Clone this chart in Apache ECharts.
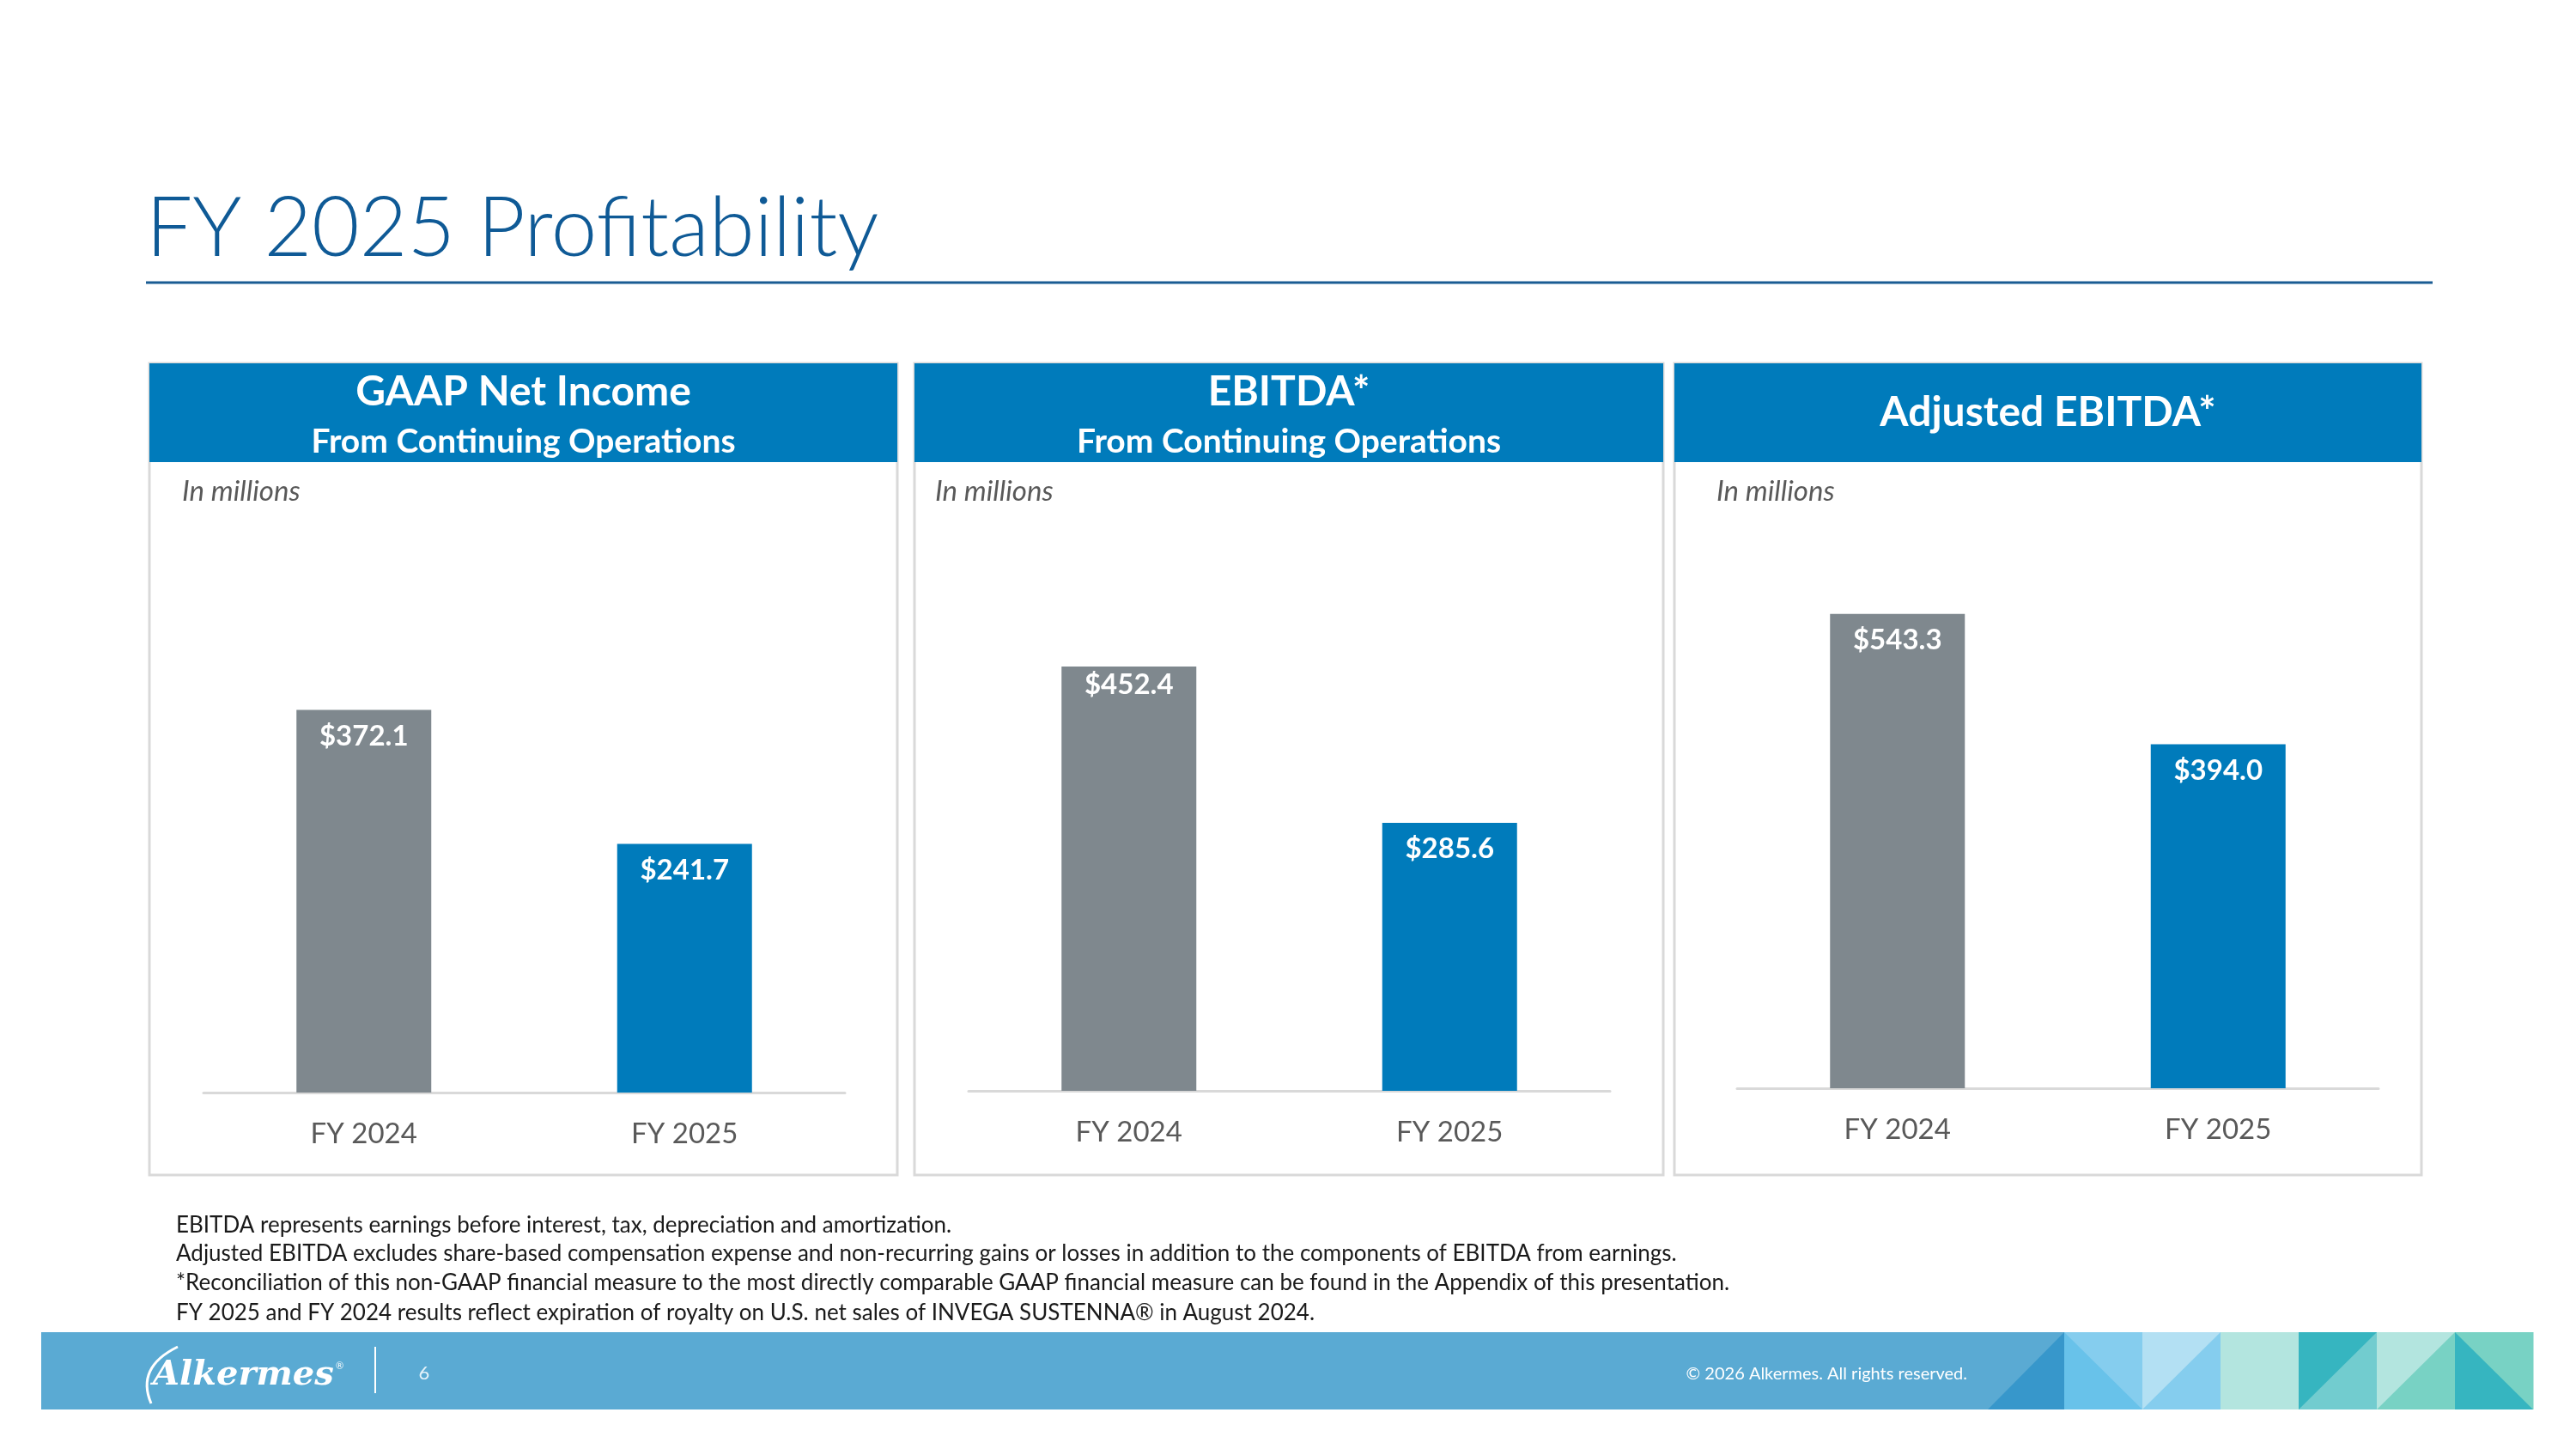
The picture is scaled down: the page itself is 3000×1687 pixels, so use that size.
<!DOCTYPE html>
<html lang="en">
<head>
<meta charset="UTF-8">
<title>FY 2025 Profitability</title>
<script src="https://cdn.jsdelivr.net/npm/echarts@6/dist/echarts.min.js"></script>
<style>
  html, body { margin: 0; padding: 0; background: #fff; }
  #main { width: 3000px; height: 1687px; }
</style>
</head>
<body>
<div id="main"></div>
<script>
  // data
  const categories = ['FY 2024', 'FY 2025'];
  const gaapNetIncome = [372.1, 241.7];
  const ebitda = [452.4, 285.6];
  const adjustedEbitda = [543.3, 394.0];
  const panelTitles = [
    ['GAAP Net Income', 'From Continuing Operations'],
    ['EBITDA*', 'From Continuing Operations'],
    ['Adjusted EBITDA*', null]
  ];
  const footnotes = [
    'EBITDA represents earnings before interest, tax, depreciation and amortization.',
    'Adjusted EBITDA excludes share-based compensation expense and non-recurring gains or losses in addition to the components of EBITDA from earnings.',
    '*Reconciliation of this non-GAAP financial measure to the most directly comparable GAAP financial measure can be found in the Appendix of this presentation.',
    'FY 2025 and FY 2024 results reflect expiration of royalty on U.S. net sales of INVEGA SUSTENNA\u00ae in August 2024.'
  ];

  const FONT = 'Lato, "Open Sans", sans-serif';
  const BLUE = '#007BBB';
  const GRAY = '#7F888E';
  const barColors = [GRAY, BLUE];

  // panel boxes + grid geometry (Excel picked a different axis max per chart)
  const panels = [
    { x: 174, w: 871, noteX: 212, gridLeft: 237, gridTop: 793, gridH: 479, max: 400 },
    { x: 1065, w: 872, noteX: 1089, gridLeft: 1128, gridTop: 724, gridH: 546, max: 500 },
    { x: 1950, w: 870, noteX: 1999, gridLeft: 2023, gridTop: 657, gridH: 610, max: 600 }
  ];
  const seriesData = [gaapNetIncome, ebitda, adjustedEbitda];

  const myChart = echarts.init(document.getElementById('main'));

  const graphics = [];
  // title + rule
  graphics.push({
    type: 'text', left: 170, top: 219,
    style: { text: 'FY 2025 Profitability', font: '300 96px ' + FONT, fill: '#0F5A96' }
  });
  graphics.push({
    type: 'line', shape: { x1: 170, y1: 329, x2: 2833, y2: 329 },
    style: { stroke: '#1A5C93', lineWidth: 3 }
  });

  panels.forEach((p, i) => {
    // frame
    graphics.push({
      type: 'rect', shape: { x: p.x, y: 423, width: p.w, height: 945 },
      style: { fill: 'none', stroke: '#D9D9D9', lineWidth: 3 }, z: 1
    });
    // header band
    graphics.push({
      type: 'rect', shape: { x: p.x, y: 423, width: p.w, height: 115 },
      style: { fill: BLUE }, z: 2
    });
    const t = panelTitles[i];
    const cx = p.x + p.w / 2;
    if (t[1]) {
      graphics.push({
        type: 'text', x: cx, y: 457, z: 3,
        style: { text: t[0], font: 'bold 48px ' + FONT, fill: '#fff', textAlign: 'center', textVerticalAlign: 'middle' }
      });
      graphics.push({
        type: 'text', x: cx, y: 514, z: 3,
        style: { text: t[1], font: 'bold 39px ' + FONT, fill: '#fff', textAlign: 'center', textVerticalAlign: 'middle' }
      });
    } else {
      graphics.push({
        type: 'text', x: cx, y: 481, z: 3,
        style: { text: t[0], font: 'bold 48px ' + FONT, fill: '#fff', textAlign: 'center', textVerticalAlign: 'middle' }
      });
    }
    graphics.push({
      type: 'text', x: p.noteX, y: 572, z: 3,
      style: { text: 'In millions', font: 'italic 33px ' + FONT, fill: '#595959', textVerticalAlign: 'middle' }
    });
  });

  // footnotes
  footnotes.forEach((line, i) => {
    graphics.push({
      type: 'text', x: 205, y: [1427, 1460, 1494, 1529][i],
      style: { text: line, font: '26px ' + FONT, fill: '#1A1A1A', textVerticalAlign: 'middle' }
    });
  });

  // footer band
  const fT = 1551, fB = 1641;
  graphics.push({ type: 'rect', shape: { x: 48, y: fT, width: 2360, height: fB - fT }, style: { fill: '#5AAAD3' } });
  const tri = (pts, fill) => graphics.push({ type: 'polygon', shape: { points: pts }, style: { fill: fill } });
  const tile = (x0, x1, fill) => graphics.push({ type: 'rect', shape: { x: x0, y: fT, width: x1 - x0 + 0.5, height: fB - fT }, style: { fill: fill } });
  const e = [2404, 2495, 2586, 2677, 2768, 2859, 2950];
  tri([[2315, fB], [e[0], fT], [e[0], fB]], '#3797CB');
  tile(e[0], e[1], '#85CDEE'); tri([[e[0], fT], [e[0], fB], [e[1], fB]], '#68C2EA');
  tile(e[1], e[2], '#85CDEE'); tri([[e[1], fT], [e[2], fT], [e[1], fB]], '#B3E0F3');
  tile(e[2], e[3], '#B3E5DF');
  tile(e[3], e[4], '#72CCCF'); tri([[e[3], fT], [e[4], fT], [e[3], fB]], '#36B5C0');
  tile(e[4], e[5], '#78D2C4'); tri([[e[4], fT], [e[5], fT], [e[4], fB]], '#B3E5DF');
  tile(e[5], e[6], '#78D2C4'); tri([[e[5], fT], [e[5], fB], [e[6], fB]], '#36B5C0');

  // logo
  graphics.push({
    type: 'bezierCurve', shape: { x1: 207, y1: 1568, cpx1: 158, cpy1: 1592, x2: 176, y2: 1634 },
    style: { stroke: '#fff', lineWidth: 3, fill: 'none' }
  });
  graphics.push({
    type: 'text', x: 178, y: 1602,
    style: { text: 'Alkermes', font: 'italic bold 40px "DejaVu Serif", serif', fill: '#fff', textVerticalAlign: 'middle' }
  });
  graphics.push({
    type: 'text', x: 391, y: 1590,
    style: { text: '\u00ae', font: '11px ' + FONT, fill: '#fff', textVerticalAlign: 'middle' }
  });
  graphics.push({ type: 'line', shape: { x1: 437, y1: 1568, x2: 437, y2: 1622 }, style: { stroke: '#fff', lineWidth: 2 } });
  graphics.push({
    type: 'text', x: 494, y: 1599,
    style: { text: '6', font: '22px ' + FONT, fill: '#E6F3FA', textAlign: 'center', textVerticalAlign: 'middle' }
  });
  graphics.push({
    type: 'text', x: 2291, y: 1600,
    style: { text: '\u00a9 2026 Alkermes. All rights reserved.', font: '20px ' + FONT, fill: '#fff', textAlign: 'right', textVerticalAlign: 'middle' }
  });

  const option = {
    backgroundColor: '#fff',
    animation: false,
    grid: panels.map(p => ({ left: p.gridLeft, top: p.gridTop, width: 747, height: p.gridH })),
    xAxis: panels.map((p, i) => ({
      type: 'category', gridIndex: i, data: categories,
      axisLine: { show: true, lineStyle: { color: '#D9D9D9', width: 3 } },
      axisTick: { show: false },
      axisLabel: { fontFamily: FONT, fontSize: 33, color: '#595959', margin: 32 }
    })),
    yAxis: panels.map((p, i) => ({
      type: 'value', gridIndex: i, min: 0, max: p.max, show: false,
      splitLine: { show: false }
    })),
    series: seriesData.map((d, i) => ({
      type: 'bar', xAxisIndex: i, yAxisIndex: i,
      // the FY 2024 EBITDA label sits a little higher in the original
      data: d.map((v, j) => (i === 1 && j === 0) ? { value: v, label: { distance: 5 } } : v),
      barWidth: 157, z: 5,
      itemStyle: { color: params => barColors[params.dataIndex] },
      label: {
        show: true, position: 'insideTop', distance: 14,
        formatter: params => '$' + params.value.toFixed(1),
        fontFamily: FONT, fontWeight: 'bold', fontSize: 33, color: '#fff'
      }
    })),
    graphic: graphics
  };

  myChart.setOption(option);
</script>
</body>
</html>
